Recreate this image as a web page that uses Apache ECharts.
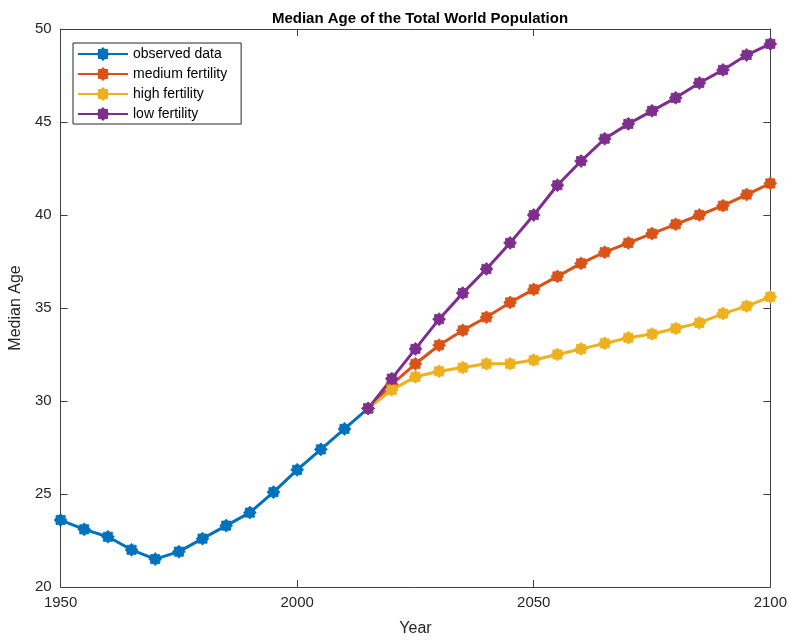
<!DOCTYPE html>
<html>
<head>
<meta charset="utf-8">
<script src="https://cdn.jsdelivr.net/npm/echarts@6/dist/echarts.min.js"></script>
<style>
  html, body { margin: 0; padding: 0; background: #fff; }
  #chart { width: 790px; height: 642px; }
</style>
</head>
<body>
<div id="chart"></div>
<script>
// Years and median ages (UN estimates and projections)
const observedYears = [1950, 1955, 1960, 1965, 1970, 1975, 1980, 1985, 1990, 1995, 2000, 2005, 2010, 2015];
const observedAge   = [23.6, 23.1, 22.7, 22.0, 21.5, 21.9, 22.6, 23.3, 24.0, 25.1, 26.3, 27.4, 28.5, 29.6];

const projYears = [2015, 2020, 2025, 2030, 2035, 2040, 2045, 2050, 2055, 2060, 2065, 2070, 2075, 2080, 2085, 2090, 2095, 2100];
const mediumAge = [29.6, 30.9, 32.0, 33.0, 33.8, 34.5, 35.3, 36.0, 36.7, 37.4, 38.0, 38.5, 39.0, 39.5, 40.0, 40.5, 41.1, 41.7];
const highAge   = [29.6, 30.6, 31.3, 31.6, 31.8, 32.0, 32.0, 32.2, 32.5, 32.8, 33.1, 33.4, 33.6, 33.9, 34.2, 34.7, 35.1, 35.6];
const lowAge    = [29.6, 31.2, 32.8, 34.4, 35.8, 37.1, 38.5, 40.0, 41.6, 42.9, 44.1, 44.9, 45.6, 46.3, 47.1, 47.8, 48.6, 49.2];

const xTicks = { min: 1950, max: 2100, interval: 50 };
const yTicks = { min: 20, max: 50, interval: 5 };

// Spiky asterisk-like marker
function starPath(points, rOut, rIn) {
  let d = '';
  for (let i = 0; i < points * 2; i++) {
    const r = i % 2 === 0 ? rOut : rIn;
    const a = Math.PI * i / points - Math.PI / 2;
    d += (i === 0 ? 'M' : 'L') + (r * Math.cos(a)).toFixed(3) + ',' + (r * Math.sin(a)).toFixed(3);
  }
  return 'path://' + d + 'Z';
}
const asterisk = starPath(8, 1, 0.76);

const pair = (xs, ys) => xs.map((x, i) => [x, ys[i]]);

const axisColor = '#262626';
const lineColor = '#404040';
const font = 'Liberation Sans, Arial, Helvetica, sans-serif';

function mkSeries(name, data, color) {
  return {
    name, type: 'line', data,
    xAxisIndex: 0, yAxisIndex: 0,
    symbol: asterisk, symbolSize: 13, showSymbol: true,
    lineStyle: { color, width: 3 },
    itemStyle: { color, borderColor: color, borderWidth: 0.8 },
    emphasis: { disabled: true },
    animation: false, z: 3
  };
}

const chart = echarts.init(document.getElementById('chart'), null, { renderer: 'canvas' });
chart.setOption({
  backgroundColor: '#fff',
  animation: false,
  title: {
    text: 'Median Age of the Total World Population',
    left: 415, top: 6, textAlign: 'center',
    textStyle: { fontFamily: font, fontSize: 15, fontWeight: 'bold', color: '#000' }
  },
  grid: { left: 60, right: 18, top: 29, bottom: 51, containLabel: false },
  legend: {
    orient: 'vertical', left: 73, top: 43,
    padding: [4, 14, 3, 4], itemGap: 6,
    itemWidth: 50, itemHeight: 14,
    backgroundColor: '#fff', borderColor: axisColor, borderWidth: 1, borderRadius: 0,
    textStyle: { fontFamily: font, fontSize: 14, color: '#000' },
    data: ['observed data', 'medium fertility', 'high fertility', 'low fertility']
  },
  xAxis: [
    {
      type: 'value', position: 'bottom', ...xTicks,
      name: 'Year', nameLocation: 'middle', nameGap: 34,
      nameTextStyle: { fontFamily: font, fontSize: 16, color: axisColor },
      axisLine: { show: true, lineStyle: { color: lineColor, width: 1 } },
      axisTick: { show: true, inside: true, length: 7, lineStyle: { color: lineColor } },
      axisLabel: { fontFamily: font, fontSize: 15, color: axisColor, margin: 8, formatter: v => String(v) },
      splitLine: { show: false }
    },
    {
      type: 'value', position: 'top', ...xTicks,
      axisLine: { show: true, lineStyle: { color: lineColor, width: 1 } },
      axisTick: { show: true, inside: true, length: 7, lineStyle: { color: lineColor } },
      axisLabel: { show: false },
      splitLine: { show: false }
    }
  ],
  yAxis: [
    {
      type: 'value', position: 'left', ...yTicks,
      name: 'Median Age', nameLocation: 'middle', nameGap: 29, nameRotate: 90,
      nameTextStyle: { fontFamily: font, fontSize: 16, color: axisColor },
      axisLine: { show: true, lineStyle: { color: lineColor, width: 1 } },
      axisTick: { show: true, inside: true, length: 7, lineStyle: { color: lineColor } },
      axisLabel: { fontFamily: font, fontSize: 15, color: axisColor, margin: 9 },
      splitLine: { show: false }
    },
    {
      type: 'value', position: 'right', ...yTicks,
      axisLine: { show: true, lineStyle: { color: lineColor, width: 1 } },
      axisTick: { show: true, inside: true, length: 7, lineStyle: { color: lineColor } },
      axisLabel: { show: false },
      splitLine: { show: false }
    }
  ],
  series: [
    mkSeries('observed data', pair(observedYears, observedAge), '#0072BD'),
    mkSeries('medium fertility', pair(projYears, mediumAge), '#D95319'),
    mkSeries('high fertility', pair(projYears, highAge), '#EDB120'),
    mkSeries('low fertility', pair(projYears, lowAge), '#7E2F8E')
  ]
});
</script>
</body>
</html>
